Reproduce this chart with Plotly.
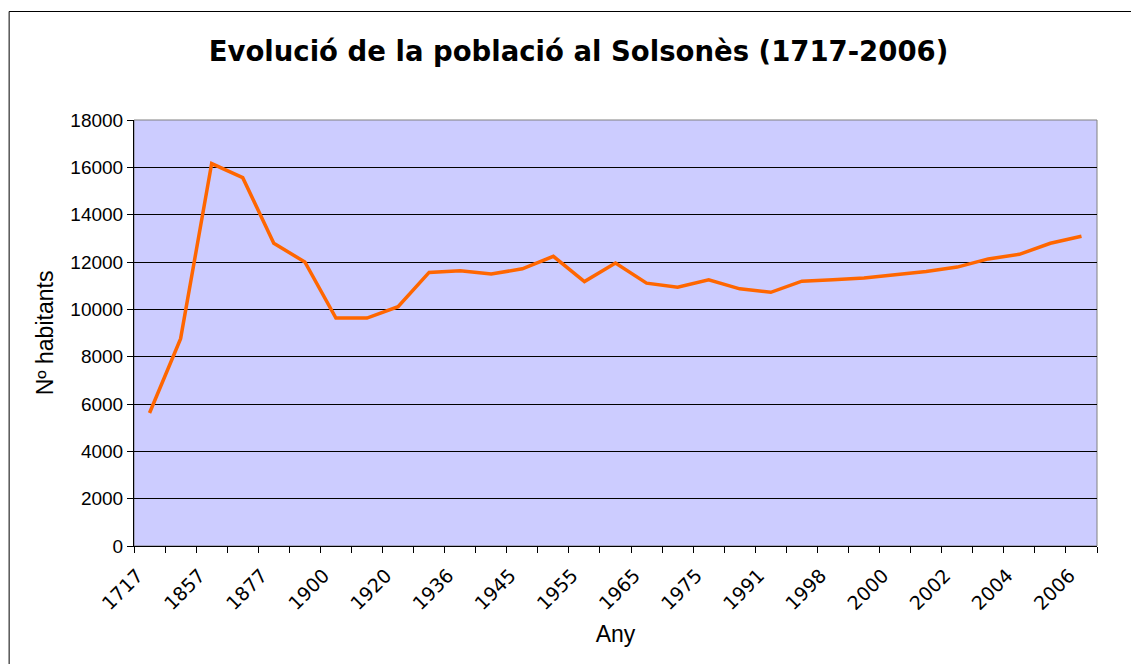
import plotly.graph_objects as go

years = ["1717", "1787", "1857", "1860", "1877", "1887", "1900", "1910", "1920", "1930",
         "1936", "1940", "1945", "1950", "1955", "1960", "1965", "1970", "1975", "1981",
         "1991", "1996", "1998", "1999", "2000", "2001", "2002", "2003", "2004", "2005", "2006"]
population = [5620, 8760, 16160, 15565, 12790, 12000, 9630, 9630, 10110, 11560,
              11630, 11490, 11715, 12240, 11175, 11955, 11105, 10935, 11245, 10865,
              10720, 11190, 11245, 11320, 11460, 11600, 11785, 12130, 12325, 12790, 13090]
shown_labels = [y if i % 2 == 0 else "" for i, y in enumerate(years)]

fig = go.Figure()
fig.add_trace(go.Scatter(
    x=years, y=population, mode="lines",
    line=dict(color="#FF6600", width=3.5),
    hoverinfo="x+y", showlegend=False,
))

# page has an 8px body margin; work in figure coordinates (screen - 8)
OFF = 8
W, H = 1131, 656
ml = 133.5 - OFF
mt = 120 - OFF
mr = W - (1097.5 - OFF)
mb = H - (546 - OFF)
pw, ph = W - ml - mr, H - mt - mb

def px(xs):
    return (xs - OFF - ml) / pw

def py(ys):
    return (H - mb - (ys - OFF)) / ph

fig.update_layout(
    width=W, height=H,
    margin=dict(l=ml, r=mr, t=mt, b=mb, autoexpand=False),
    paper_bgcolor="white",
    plot_bgcolor="#CCCCFF",
    title=dict(
        text="Evolució de la població al Solsonès (1717-2006)",
        font=dict(family="DejaVu Sans", size=27.5, color="black", weight="bold"),
        xref="container", x=(578.5 - OFF) / W, xanchor="center",
        yref="container", y=1 - (51 - OFF) / H, yanchor="middle",
    ),
    xaxis=dict(
        type="category",
        tickmode="array", tickvals=years, ticktext=shown_labels,
        tickson="boundaries",
        ticks="outside", ticklen=6, tickcolor="black", tickwidth=1,
        tickangle=-45,
        ticklabelshift=-12, ticklabelstandoff=10,
        tickfont=dict(family="DejaVu Sans", size=19, color="black"),
        showgrid=False, showline=True, linecolor="black", linewidth=1,
        range=[-0.5, len(years) - 0.5],
        title=dict(text="Any", font=dict(family="Liberation Sans", size=23, color="black"), standoff=12),
        zeroline=False,
    ),
    yaxis=dict(
        range=[0, 18000], dtick=2000, tick0=0, tickformat="d",
        ticks="outside", ticklen=6, tickcolor="black", tickwidth=1,
        tickfont=dict(family="Liberation Sans", size=19, color="black"),
        showgrid=True, gridcolor="black", gridwidth=1,
        showline=True, linecolor="black", linewidth=1,
        zeroline=False,
        title=dict(text="Nº habitants", font=dict(family="Liberation Sans", size=23, color="black"), standoff=10),
    ),
    shapes=[
        dict(type="rect", xref="paper", yref="paper", x0=0, x1=1, y0=0, y1=1,
             line=dict(color="#808080", width=1), layer="below"),
        dict(type="rect", xref="paper", yref="paper",
             x0=px(8.5), x1=px(1160), y0=py(700), y1=py(11.5),
             line=dict(color="black", width=1), fillcolor="rgba(0,0,0,0)"),
    ],
)

fig.write_html("out.html")
